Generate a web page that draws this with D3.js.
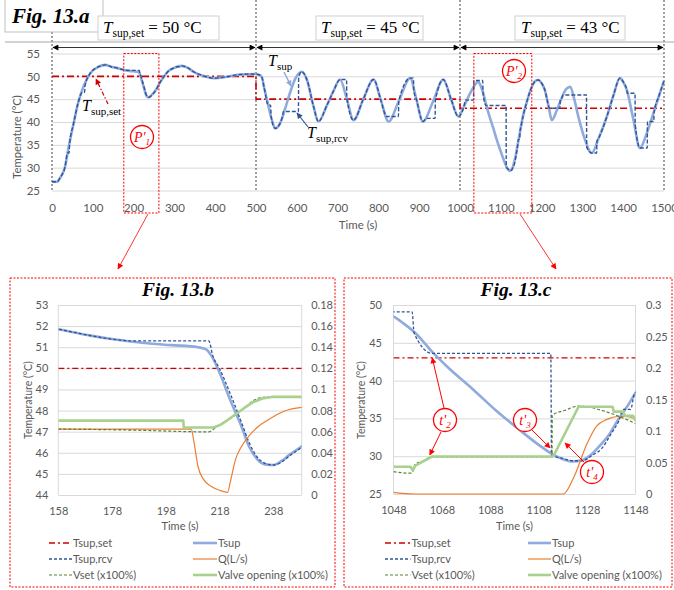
<!DOCTYPE html>
<html>
<head>
<meta charset="utf-8">
<script src="https://cdn.jsdelivr.net/npm/d3@7"></script>
<style>
body { margin: 0; background: #fff; }
</style>
</head>
<body>
<svg id="fig" width="674" height="590"></svg>
<script>
var FONT = "Lato, 'Open Sans', sans-serif";
var SERIF = "'Liberation Serif', 'Times New Roman', serif";

// supply temperature (s, degC), shared by all three panels
var tsup = [[0,26.9],[12,26.9],[20,27.8],[32,30.2],[41,34.6],[53,39.7],[65,44.5],[77,47.7],[94,50.7],[114,52.1],[131,52.5],[145,52.1],
    [158,51.85],[170,51.55],[180,51.35],[190,51.2],[200,51.1],[210,51.0],[213,50.9],[215,50.6],[218,49.8],[222,48.5],[226,47.3],
    [229,46.3],[232,45.7],[235,45.45],[238,45.42],[241,45.6],[244,45.9],[249,46.35],[256,47.2],[263,48.4],[274,49.9],[286,51.2],
    [298,51.8],[318,52.3],[332,51.9],[347,51.0],[371,50.1],[396,49.6],[428,49.9],[461,50.4],[498,50.5],[505,50.4],[514,49.9],
    [520,47.5],[527,44.8],[539,40.4],[547,38.6],[559,39.7],[571,42.8],[583,46.3],[597,49.6],[612,51.0],[625,49.2],[641,43.4],
    [653,40.1],[674,43.7],[690,46.8],[706,49.3],[722,45.3],[739,40.4],[763,45.0],[788,49.3],[806,44.8],[825,40.1],[850,44.6],
    [878,49.6],[893,45.0],[909,40.1],[934,44.5],[959,49.3],[978,45.0],[996,41.2],[1010,43.5],[1025,46.3],[1045,48.8],
    [1048,48.46],[1052,47.6],[1057,46.3],[1064,43.8],[1071,41.6],[1081,38.8],[1090,36.15],[1100,33.5],[1108,31.5],[1114,30.2],
    [1118,29.6],[1122,29.3],[1126,29.5],[1130,30.3],[1133,31.3],[1137,32.8],[1140,34.4],[1144,36.3],[1148,38.35],[1155,41.5],
    [1165,44.8],[1175,47.5],[1185,49.0],[1192,49.2],[1200,48.5],[1208,47.0],[1217,43.5],[1225,40.4],[1237,42.5],[1249,45.2],
    [1260,47.2],[1270,47.7],[1280,45.0],[1290,41.2],[1305,36.5],[1323,33.2],[1340,36.5],[1360,41.2],[1376,45.8],[1392,49.6],
    [1400,48.8],[1409,47.0],[1425,40.5],[1441,34.3],[1458,37.6],[1474,41.9],[1488,45.8],[1500,49.0]];

// received supply temperature, with the hold steps
var tsupRcv = [[0,26.9],[12,26.9],[20,27.8],[32,30.2],[38,33.2],[42,33.2],[43,35.0],[53,39.7],[65,44.5],[75,46.5],[80,46.5],
    [81,48.0],[94,50.7],[114,52.1],[131,52.5],[145,52.1],[158,51.85],[170,51.55],[180,51.35],[185,51.3],[214,51.3],[215.5,50.6],
    [218,50.0],[222,48.8],[226,47.5],[229,46.5],[232,45.8],[235,45.5],[238,45.42],[241,45.55],[244,45.85],[249,46.3],[256,47.2],
    [263,48.4],[274,49.9],[286,51.2],[298,51.8],[305,52.1],[312,52.1],[318,52.3],[332,51.9],[347,51.0],[371,50.1],[396,49.6],
    [428,49.9],[461,50.4],[498,50.5],[505,50.4],[514,49.9],[520,47.5],[530,43.7],[536,43.7],[537,41.2],[547,38.6],[559,39.7],
    [566,41.8],[567,42.3],[604,42.3],[604.5,49.7],[612,51.0],[625,49.2],[641,43.4],[653,40.1],[674,43.7],[690,46.8],[706,49.3],
    [722,49.3],[722.5,45.3],[739,40.4],[763,45.0],[788,49.3],[806,44.8],[815,42.0],[820,41.2],[849,41.2],[850,44.6],[878,49.6],
    [886,49.6],[886.5,47.0],[893,45.0],[909,40.1],[918,40.8],[939,40.8],[939.5,44.6],[959,49.3],[978,45.0],[996,41.2],
    [1010,43.5],[1013,44.8],[1033,44.8],[1034,49.1],[1055.7,49.1],[1056.5,46.3],[1064,43.6],[1113,43.6],[1113.3,30.1],
    [1118,29.7],[1122,29.4],[1126,29.4],[1130,30.1],[1134,31.0],[1138,33.0],[1141,34.6],[1143,36.2],[1146,36.2],[1147.5,38.2],
    [1148,38.4],[1155,41.5],[1165,44.8],[1175,47.5],[1185,49.0],[1192,49.2],[1200,48.5],[1208,47.0],[1217,43.5],[1219,43.0],
    [1245,43.0],[1245.5,44.6],[1249,45.2],[1253,45.9],[1310,45.9],[1310.5,34.5],[1323,33.2],[1335,33.2],[1335.5,35.8],
    [1340,36.5],[1360,41.2],[1376,45.8],[1392,49.6],[1400,48.8],[1409,47.0],[1410,46.3],[1429,46.3],[1429.5,39.5],[1441,34.3],
    [1459,34.3],[1459.5,40.1],[1475,40.1],[1475.5,42.0],[1488,45.8],[1500,49.0]];

var tsupSet = [[0,50],[500,50],[500,45],[1000,45],[1000,43],[1500,43]];

// Fig 13.b secondary axis series
var qB = [[158,0.0625],[207.5,0.0625],[208.5,0.05],[210,0.027],[212,0.015],[215,0.008],[218,0.0045],[221,0.0025],[222,0.012],
    [224,0.034],[226,0.045],[229,0.056],[232,0.064],[236,0.071],[240,0.077],[244,0.081],[249,0.083]];
var vsetB = [[158,0.0625],[185,0.0615],[214,0.0598],[217,0.0647],[220,0.069],[223,0.074],[227,0.082],[231,0.09],[234,0.0925],
    [237,0.093],[249,0.093]];
var valveB = [[158,0.0705],[204.5,0.0705],[204.7,0.064],[215.7,0.064],[218,0.066],[221,0.071],[224,0.0765],[227,0.082],
    [230.5,0.088],[234,0.0915],[238,0.093],[249,0.093]];

// Fig 13.c secondary axis series
var qC = [[1048,0.0027],[1052,0.001],[1057,0],[1118.2,0],[1122.6,0.0275],[1128,0.08],[1132,0.108],[1136,0.118],[1141,0.123],
    [1144,0.123],[1148,0.119]];
var vsetC = [[1048,0.0354],[1055.5,0.033],[1057,0.0476],[1060,0.052],[1064,0.059],[1113.5,0.059],[1113.6,0.125],[1119,0.133],
    [1124.5,0.1397],[1130,0.137],[1135.5,0.131],[1142,0.122],[1148,0.112]];
var valveC = [[1048,0.0433],[1055,0.0433],[1056,0.0375],[1057,0.045],[1064,0.0595],[1114,0.0595],[1124.5,0.1386],
    [1138.5,0.1386],[1139,0.1307],[1143,0.1307],[1143.5,0.124],[1147,0.124],[1148,0.116]];

var topXTicks = [0,100,200,300,400,500,600,700,800,900,1000,1100,1200,1300,1400,1500];
var topYTicks = [25,30,35,40,45,50,55];
var bXTicks = [158,178,198,218,238];
var bYLTicks = [44,45,46,47,48,49,50,51,52,53];
var bYRTicks = [0,0.02,0.04,0.06,0.08,0.1,0.12,0.14,0.16,0.18];
var cXTicks = [1048,1068,1088,1108,1128,1148];
var cYLTicks = [25,30,35,40,45,50];
var cYRTicks = [0,0.05,0.1,0.15,0.2,0.25,0.3];

var legendNames = ["Tsup,set", "Tsup", "Tsup,rcv", "Q(L/s)", "Vset (x100%)", "Valve opening (x100%)"];
var setpoints = [50, 45, 43];
var zoomWindows = [[176, 262], [1034, 1176]];

var C = {
    set: "#d00000", tsup: "#8faadc", rcv: "#2f5597", q: "#ed7d31",
    vset: "#548235", valve: "#a9d18e", grid: "#d9d9d9", tick: "#595959", note: "#ff0000"
};
var styles = [
    {color: C.set, width: 1.4, dash: "6,3,2,3"},
    {color: C.tsup, width: 2.6, dash: null},
    {color: C.rcv, width: 1.3, dash: "3,2"},
    {color: C.q, width: 1.2, dash: null},
    {color: C.vset, width: 1.2, dash: "3,2"},
    {color: C.valve, width: 2.6, dash: null}
];
var fmtInt = d3.format("d");
var fmtDec = d3.format("~g");

var svg = d3.select("#fig");
var defs = svg.append("defs");

function addMarker(id, color, w, h) {
    defs.append("marker")
        .attr("id", id)
        .attr("viewBox", "0 0 10 10")
        .attr("refX", 9).attr("refY", 5)
        .attr("markerUnits", "userSpaceOnUse")
        .attr("markerWidth", w).attr("markerHeight", h)
        .attr("orient", "auto-start-reverse")
        .append("path").attr("d", "M0,0L10,5L0,10z").attr("fill", color);
}
addMarker("arBlack", "#000", 7, 6);
addMarker("arRed", C.note, 7, 6);
addMarker("arSet", C.set, 7, 6);
addMarker("arBlue", C.tsup, 7, 6);
addMarker("arRcv", C.rcv, 7, 6);

function styleAxis(sel, size) {
    sel.select(".domain").remove();
    sel.selectAll(".tick line").attr("stroke", C.grid);
    sel.selectAll(".tick text")
        .attr("fill", C.tick)
        .style("font-size", size + "px")
        .style("font-family", FONT);
}

function richText(g, x, y, parts, color, anchor) {
    var t = g.append("text")
        .attr("x", x).attr("y", y)
        .attr("font-family", SERIF)
        .attr("fill", color || "#000")
        .attr("text-anchor", anchor || "start");
    parts.forEach(function (p) {
        t.append("tspan")
            .text(p.t)
            .attr("font-size", p.size)
            .attr("font-style", p.italic ? "italic" : "normal")
            .attr("font-weight", p.bold ? "bold" : "normal")
            .attr("dy", p.dy || 0);
    });
    return t;
}

function arrow(g, x1, y1, x2, y2, color, marker, dash, width) {
    g.append("line")
        .attr("x1", x1).attr("y1", y1).attr("x2", x2).attr("y2", y2)
        .attr("stroke", color)
        .attr("stroke-width", width || 1)
        .attr("stroke-dasharray", dash || null)
        .attr("marker-end", "url(#" + marker + ")");
}

function circleLabel(g, cx, cy, main, sub) {
    g.append("circle").attr("cx", cx).attr("cy", cy).attr("r", 11.5)
        .attr("fill", "#fff").attr("stroke", C.note).attr("stroke-width", 1.3);
    richText(g, cx, cy + 4.5, [
        {t: main, size: 14, italic: true},
        {t: sub, size: 9, italic: true, dy: 3}
    ], C.note, "middle");
}

function drawSeries(g, data, x, y, st, curve) {
    g.append("path")
        .datum(data)
        .attr("fill", "none")
        .attr("stroke", st.color)
        .attr("stroke-width", st.width)
        .attr("stroke-dasharray", st.dash)
        .attr("stroke-linejoin", "round")
        .attr("d", d3.line()
            .x(function (d) { return x(d[0]); })
            .y(function (d) { return y(d[1]); })
            .curve(curve || d3.curveMonotoneX));
}

/* ---------- Fig 13.a ---------- */
var xA = d3.scaleLinear().domain([0, 1500]).range([52, 664]);
var yA = d3.scaleLinear().domain([25, 55]).range([190.5, 53.5]);
var gA = svg.append("g");

gA.append("g")
    .attr("transform", "translate(52,0)")
    .call(d3.axisLeft(yA).tickValues(topYTicks).tickSize(-612).tickPadding(12).tickFormat(fmtInt))
    .call(styleAxis, 11.5);
gA.append("g")
    .attr("transform", "translate(0,190.5)")
    .call(d3.axisBottom(xA).tickValues(topXTicks).tickSize(0).tickPadding(13).tickFormat(fmtInt))
    .call(styleAxis, 11.5);

gA.append("text").attr("x", 358).attr("y", 229).attr("text-anchor", "middle")
    .attr("font-family", FONT).attr("font-size", 11.5).attr("fill", C.tick).text("Time (s)");
gA.append("text").attr("transform", "translate(21,137) rotate(-90)").attr("text-anchor", "middle")
    .attr("font-family", FONT).attr("font-size", 11.3).attr("fill", C.tick).text("Temperature (°C)");

// phase separators
[0, 500, 1000, 1500].forEach(function (t) {
    gA.append("line").attr("x1", xA(t)).attr("x2", xA(t)).attr("y1", 0).attr("y2", yA(25))
        .attr("stroke", "#404040").attr("stroke-width", 1).attr("stroke-dasharray", "2,2");
});

drawSeries(gA, tsupSet, xA, yA, {color: C.set, width: 1.6, dash: "7,3,2,3"}, d3.curveLinear);
drawSeries(gA, tsup, xA, yA, styles[1]);
drawSeries(gA, tsupRcv, xA, yA, {color: C.rcv, width: 1.4, dash: "4,2"});

// header strip
gA.append("line").attr("x1", 5).attr("x2", 674).attr("y1", 42).attr("y2", 42)
    .attr("stroke", "#a6a6a6").attr("stroke-width", 1);
gA.append("rect").attr("x", 5).attr("y", -1).attr("width", 98).attr("height", 33)
    .attr("fill", "#fff").attr("stroke", "#bfbfbf");
richText(gA, 12, 23, [{t: "Fig. 13.a", size: 21, italic: true, bold: true}]);

var boxes = [[98, 219, 103], [316, 423, 321], [515, 625, 521]];
boxes.forEach(function (b, i) {
    gA.append("rect").attr("x", b[0]).attr("y", 16).attr("width", b[1] - b[0]).attr("height", 24)
        .attr("fill", "#fff").attr("stroke", "#d0d0d0");
    richText(gA, b[2], 33, [
        {t: "T", size: 17, italic: true},
        {t: "sup,set", size: 11.5, dy: 4},
        {t: " = " + setpoints[i] + " °C", size: 17, dy: -4}
    ]);
});

[[0, 500], [500, 1000], [1000, 1500]].forEach(function (p) {
    gA.append("line")
        .attr("x1", xA(p[0]) + 1).attr("x2", xA(p[1]) - 1).attr("y1", 47.5).attr("y2", 47.5)
        .attr("stroke", "#000").attr("stroke-width", 0.8)
        .attr("marker-start", "url(#arBlack)").attr("marker-end", "url(#arBlack)");
});

// zoomed windows
zoomWindows.forEach(function (w) {
    gA.append("rect")
        .attr("x", xA(w[0])).attr("y", yA(55))
        .attr("width", xA(w[1]) - xA(w[0])).attr("height", 213 - yA(55))
        .attr("fill", "none").attr("stroke", C.note).attr("stroke-width", 1).attr("stroke-dasharray", "2,1.5");
});
circleLabel(gA, 142, 137, "P'", "1");
circleLabel(gA, 514, 71, "P'", "2");
arrow(gA, 148, 214, 118, 269, C.note, "arRed", null, 0.8);
arrow(gA, 520, 214, 556, 269, C.note, "arRed", null, 0.8);

richText(gA, 82, 111, [{t: "T", size: 16, italic: true}, {t: "sup,set", size: 11, dy: 4}]);
arrow(gA, 108, 104, 96, 79, C.set, "arSet", "4,2,1.5,2", 1.2);
richText(gA, 268, 66, [{t: "T", size: 16, italic: true}, {t: "sup", size: 11, dy: 4}]);
arrow(gA, 284, 72, 291, 86, C.tsup, "arBlue", null, 1.5);
richText(gA, 307, 138, [{t: "T", size: 16, italic: true}, {t: "sup,rcv", size: 11, dy: 4}]);
arrow(gA, 308, 127, 297, 113, C.rcv, "arRcv", null, 1.2);

/* ---------- Fig 13.b / 13.c ---------- */
function drawPanel(o) {
    var g = svg.append("g");
    var x = d3.scaleLinear().domain(o.xDomain).range([o.left, o.right]);
    var yL = d3.scaleLinear().domain(o.yLDomain).range([o.bottom, o.top]);
    var yR = d3.scaleLinear().domain(o.yRDomain).range([o.bottom, o.top]);

    g.append("rect").attr("x", o.box[0]).attr("y", 278).attr("width", o.box[1] - o.box[0]).attr("height", 309)
        .attr("fill", "none").attr("stroke", C.note).attr("stroke-width", 1).attr("stroke-dasharray", "2,1.5");

    g.append("g")
        .attr("transform", "translate(" + o.left + ",0)")
        .call(d3.axisLeft(yL).tickValues(o.yLTicks).tickSize(-(o.right - o.left)).tickPadding(o.padL).tickFormat(fmtInt))
        .call(styleAxis, 11);
    g.append("g")
        .attr("transform", "translate(" + o.right + ",0)")
        .call(d3.axisRight(yR).tickValues(o.yRTicks).tickSize(0).tickPadding(o.padR).tickFormat(fmtDec))
        .call(styleAxis, 11);
    g.append("g")
        .attr("transform", "translate(0," + o.bottom + ")")
        .call(d3.axisBottom(x).tickValues(o.xTicks).tickSize(0).tickPadding(12).tickFormat(fmtInt))
        .call(styleAxis, 11);
    [o.left, o.right].forEach(function (px) {
        g.append("line").attr("x1", px).attr("x2", px).attr("y1", o.top).attr("y2", o.bottom).attr("stroke", C.grid);
    });

    g.append("text").attr("x", (o.left + o.right) / 2).attr("y", 530).attr("text-anchor", "middle")
        .attr("font-family", FONT).attr("font-size", 11).attr("fill", C.tick).text("Time (s)");
    g.append("text").attr("transform", "translate(" + o.yLabelX + ",400) rotate(-90)").attr("text-anchor", "middle")
        .attr("font-family", FONT).attr("font-size", 10.5).attr("fill", C.tick).text("Temperature (°C)");
    richText(g, o.titleX, 296, [{t: o.title, size: 19.5, italic: true, bold: true}], "#000", "middle");

    var clipId = "clip" + o.title.slice(-1);
    defs.append("clipPath").attr("id", clipId).append("rect")
        .attr("x", o.left).attr("y", o.top - 2).attr("width", o.right - o.left).attr("height", o.bottom - o.top + 4);
    var plot = g.append("g").attr("clip-path", "url(#" + clipId + ")");
    var setLine = [[o.xDomain[0], o.setpoint], [o.xDomain[1], o.setpoint]];
    drawSeries(plot, setLine, x, yL, styles[0], d3.curveLinear);
    drawSeries(plot, tsup, x, yL, styles[1]);
    drawSeries(plot, tsupRcv, x, yL, styles[2]);
    drawSeries(plot, o.q, x, yR, styles[3]);
    drawSeries(plot, o.vset, x, yR, styles[4]);
    drawSeries(plot, o.valve, x, yR, styles[5], d3.curveLinear);

    // legend, two columns by three rows
    legendNames.forEach(function (name, i) {
        var col = i % 2, row = Math.floor(i / 2);
        var ly = 543 + row * 16;
        var lx = o.legX[col];
        var st = styles[i];
        g.append("line").attr("x1", lx[0]).attr("x2", lx[1]).attr("y1", ly).attr("y2", ly)
            .attr("stroke", st.color).attr("stroke-width", Math.min(st.width, 2.6)).attr("stroke-dasharray", st.dash);
        g.append("text").attr("x", lx[1] + 1).attr("y", ly + 4)
            .attr("font-family", FONT).attr("font-size", 11).attr("fill", C.tick).text(name);
    });

    return {g: g, x: x, yL: yL, yR: yR};
}

drawPanel({
    title: "Fig. 13.b", titleX: 178, box: [10, 335],
    left: 58.3, right: 301.7, top: 305, bottom: 495,
    xDomain: [158, 248.6], yLDomain: [44, 53], yRDomain: [0, 0.18],
    xTicks: bXTicks, yLTicks: bYLTicks, yRTicks: bYRTicks,
    padL: 10, padR: 9.5, yLabelX: 32, setpoint: 50,
    q: qB, vset: vsetB, valve: valveB,
    legX: [[49, 72], [193, 217]]
});

var pc = drawPanel({
    title: "Fig. 13.c", titleX: 516, box: [344, 672],
    left: 393.5, right: 635.5, top: 305, bottom: 494,
    xDomain: [1048, 1148], yLDomain: [25, 50], yRDomain: [0, 0.3],
    xTicks: cXTicks, yLTicks: cYLTicks, yRTicks: cYRTicks,
    padL: 11.5, padR: 10.5, yLabelX: 365, setpoint: 43,
    q: qC, vset: vsetC, valve: valveC,
    legX: [[385, 410.5], [528, 551]]
});

// instants marked in Fig 13.c
var gc = pc.g;
arrow(gc, 444, 408, pc.x(1064), pc.yL(43), C.note, "arRed", null, 1);
arrow(gc, 441, 432, pc.x(1063), pc.yR(0.062), C.note, "arRed", null, 1);
arrow(gc, 532, 430, pc.x(1112.7), pc.yL(31.1), C.note, "arRed", null, 1);
arrow(gc, 584, 462, pc.x(1118.9), pc.yR(0.081), C.note, "arRed", null, 1);
circleLabel(gc, 445, 420, "t'", "2");
circleLabel(gc, 525, 420, "t'", "3");
circleLabel(gc, 592, 472, "t'", "4");
</script>
</body>
</html>
